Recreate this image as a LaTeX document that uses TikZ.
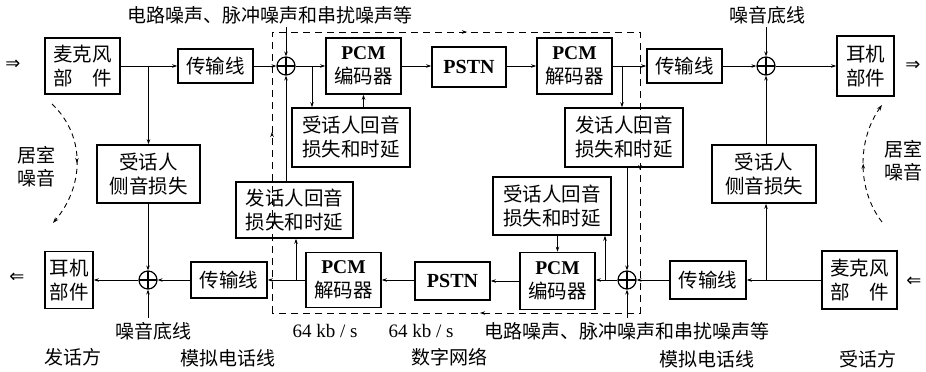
\documentclass[tikz,border=0pt]{standalone}
\usepackage{fontspec}
\setmainfont{Liberation Serif}
\newfontfamily\cjk{Noto Sans CJK SC}
\newfontfamily\symf{DejaVu Sans}
\newcommand\pcmfont{\rmfamily\bfseries}
\usetikzlibrary{arrows.meta,decorations.markings}
\begin{document}
\begin{tikzpicture}[x=1pt,y=-1pt,
  box/.style={draw, line width=1.6pt, inner sep=0pt, align=center,
    font=\cjk\fontsize{19.5}{24}\selectfont},
  adder/.style={draw, circle, minimum size=18pt, inner sep=0pt, line width=1.2pt,
    path picture={\draw[line width=1.2pt] (path picture bounding box.north) -- (path picture bounding box.south)
      (path picture bounding box.west) -- (path picture bounding box.east);}},
  conn/.style={line width=0.9pt, -{Stealth[length=5pt,width=3.5pt]}},
  lbl/.style={font=\cjk\fontsize{19}{23}\selectfont, inner sep=0pt, align=center},
  rate/.style={font=\fontsize{19}{22}\selectfont, inner sep=0pt},
  dir/.style={font=\symf\fontsize{18}{20}\selectfont, inner sep=0pt},
  pcm/.style={font=\rmfamily\bfseries\fontsize{20}{22}\selectfont},
  roomarrow/.style={line width=0.9pt, dash pattern=on 5pt off 4pt,
    -{Stealth[length=6pt,width=4pt]},
    postaction={decorate, decoration={markings,
      mark=at position 0.5 with {\arrow[solid]{Stealth[length=5pt,width=3.5pt]}}}}},
  frame/.style={line width=0.9pt, dash pattern=on 7pt off 5pt}
]
\useasboundingbox (0,0) rectangle (926,372);

% dashed digital-network frame
\draw[frame, postaction={decorate, decoration={markings,
   mark=at position 181pt with {\arrow[solid]{Stealth[length=5pt,width=3.5pt]}},
   mark=at position 476pt with {\arrow[solid]{Stealth[length=5pt,width=3.5pt]}},
   mark=at position 787pt with {\arrow[solid]{Stealth[length=5pt,width=3.5pt]}},
   mark=at position 1090pt with {\arrow[solid]{Stealth[length=5pt,width=3.5pt]}}}}]
  (272,313) -- (272,32) -- (640,32) -- (640,313) -- cycle;

% ---------- top row ----------
\node[box, minimum width=75pt, minimum height=56pt] (micL) at (82.5,66) {麦克风\\部\hspace{1em}件};
\node[box, minimum width=75pt, minimum height=34pt] (lineT1) at (215.5,66) {传输线};
\node[adder] (adT1) at (286,66) {};
\node[box, minimum width=75pt, minimum height=56pt] (encT) at (363.5,66) {{\pcmfont PCM}\\编码器};
\node[box, minimum width=74pt, minimum height=40pt, pcm] (pstnT) at (469,67) {PSTN};
\node[box, minimum width=75pt, minimum height=56pt] (decT) at (574.5,66) {{\pcmfont PCM}\\解码器};
\node[box, minimum width=75pt, minimum height=34pt] (lineT2) at (684.5,66) {传输线};
\node[adder] (adT2) at (766,66) {};
\node[box, minimum width=57pt, minimum height=60pt] (earR) at (865.5,66) {耳机\\部件};

% ---------- middle boxes ----------
\node[box, minimum width=118pt, minimum height=59pt] (rxEchoT) at (351,137.5) {受话人回音\\损失和时延};
\node[box, minimum width=118pt, minimum height=59pt] (txEchoT) at (624,137.5) {发话人回音\\损失和时延};
\node[box, minimum width=103pt, minimum height=58pt] (sideL) at (148.5,174) {受话人\\侧音损失};
\node[box, minimum width=104pt, minimum height=58pt] (sideR) at (764,174) {受话人\\侧音损失};
\node[box, minimum width=117pt, minimum height=56pt] (txEchoB) at (294.5,210) {发话人回音\\损失和时延};
\node[box, minimum width=118pt, minimum height=58pt] (rxEchoB) at (552,206) {受话人回音\\损失和时延};

% ---------- bottom row ----------
\node[box, minimum width=48pt, minimum height=57pt] (earL) at (69,280) {耳机\\部件};
\node[adder] (adB1) at (148,280) {};
\node[box, minimum width=76pt, minimum height=36pt] (lineB1) at (229,280) {传输线};
\node[box, minimum width=75pt, minimum height=55pt] (decB) at (343.5,280) {{\pcmfont PCM}\\解码器};
\node[box, minimum width=75pt, minimum height=38pt, pcm] (pstnB) at (452.5,281) {PSTN};
\node[box, minimum width=75pt, minimum height=57pt] (encB) at (557.5,281) {{\pcmfont PCM}\\编码器};
\node[adder] (adB2) at (627,280) {};
\node[box, minimum width=76pt, minimum height=38pt] (lineB2) at (708,280) {传输线};
\node[box, minimum width=75pt, minimum height=58pt] (micR) at (859.5,280) {麦克风\\部\hspace{1em}件};

% ---------- labels ----------
\node[lbl] (lblTop) at (270,15) {电路噪声、脉冲噪声和串扰噪声等};
\node[lbl] (nT2) at (767,15) {噪音底线};
\node[lbl] (nB1) at (153,331) {噪音底线};
\node[rate] (r1) at (325,331) {64 kb / s};
\node[rate] (r2) at (421,331) {64 kb / s};
\node[lbl] (lblBot) at (627,331) {电路噪声、脉冲噪声和串扰噪声等};
\node[lbl] (sp) at (73,357) {发话方};
\node[lbl] (al1) at (228,358) {模拟电话线};
\node[lbl] (dn) at (449,357) {数字网络};
\node[lbl] (al2) at (707,359) {模拟电话线};
\node[lbl] (rp) at (868,359) {受话方};
\node[lbl] (roomL) at (36,167) {居室\\噪音};
\node[lbl] (roomR) at (903,161) {居室\\噪音};
\node[dir] (inL) at (13,65) {⇒};
\node[dir] (outR) at (913,66) {⇒};
\node[dir] (outL) at (17,278) {⇐};
\node[dir] (inR) at (914,282) {⇐};

% ---------- connectors: top path ----------
\coordinate (b1) at (312,66);
\coordinate (b2) at (622,66);
\draw[conn] (micL.east) -- (lineT1.west);
\draw[conn] (sideL.north |- micL.east) -- (sideL.north);
\draw[conn] (lineT1.east) -- (adT1.west);
\draw[conn] (adT1.east) -- (encT.west);
\draw[conn] (b1) -- (b1 |- rxEchoT.north);
\draw[conn] (encT.south |- rxEchoT.north) -- (encT.south);
\draw[conn] (adT1.north |- lblTop.south) ++(0,3) -- (adT1.north);
\draw[conn] (adT1.south |- txEchoB.north) -- (adT1.south);
\draw[conn] (encT.east) -- (pstnT.west |- encT.east);
\draw[conn] (pstnT.east |- decT.west) -- (decT.west);
\draw[conn] (decT.east) -- (lineT2.west);
\draw[conn] (b2) -- (b2 |- txEchoT.north);
\draw[conn] (adB2.north |- txEchoT.south) -- (adB2.north);
\draw[conn] (lineT2.east) -- (adT2.west);
\draw[conn] (adT2.east) -- (earR.west);
\draw[conn] (adT2.north |- nT2.south) ++(0,3) -- (adT2.north);
\draw[conn] (adT2.south |- sideR.north) -- (adT2.south);

% ---------- connectors: bottom path ----------
\coordinate (b3) at (605,280);
\coordinate (b4) at (296,280);
\coordinate (b5) at (766,280);
\draw[conn] (micR.west) -- (lineB2.east);
\draw[conn] (b5) -- (b5 |- sideR.south);
\draw[conn] (lineB2.west) -- (adB2.east);
\draw[conn] (adB2.west) -- (encB.east |- adB2.west);
\draw[conn] (b3) -- (b3 |- rxEchoB.south);
\draw[conn] (encB.north |- rxEchoB.south) -- (encB.north);
\draw[conn] (adB2.south |- lblBot.north) ++(0,-4) -- (adB2.south);
\draw[conn] (encB.west |- pstnB.east) -- (pstnB.east);
\draw[conn] (pstnB.west |- decB.east) -- (decB.east);
\draw[conn] (decB.west) -- (lineB1.east);
\draw[conn] (b4) -- (b4 |- txEchoB.south);
\draw[conn] (lineB1.west) -- (adB1.east);
\draw[conn] (adB1.west) -- (earL.east);
\draw[conn] (adB1.north |- sideL.south) -- (adB1.north);
\draw[conn] (adB1.south |- nB1.north) ++(0,-4) -- (adB1.south);

% ---------- room-noise arrows ----------
\draw[roomarrow] (52,104) .. controls (85,135) and (85,185) .. (53,223);
\draw[roomarrow] (882,222) .. controls (857,190) and (857,140) .. (882,105);
\end{tikzpicture}
\end{document}
